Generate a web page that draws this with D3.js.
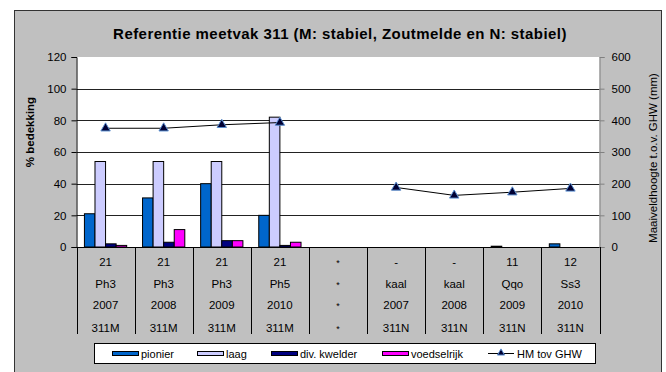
<!DOCTYPE html>
<html>
<head>
<meta charset="utf-8">
<script src="https://cdn.jsdelivr.net/npm/d3@7"></script>
<style>
  html, body { margin: 0; padding: 0; background: #fff; }
  svg { display: block; font-family: "Liberation Sans", Arial, sans-serif; }
</style>
</head>
<body>
<svg id="chart" width="666" height="372"></svg>
<script>
// Category labels, four rows each (code, vegetation type, year, section)
const rowCode    = ["21", "21", "21", "21", "*", "-", "-", "11", "12"];
const rowType    = ["Ph3", "Ph3", "Ph3", "Ph5", "*", "kaal", "kaal", "Qqo", "Ss3"];
const rowYear    = ["2007", "2008", "2009", "2010", "*", "2007", "2008", "2009", "2010"];
const rowSection = ["311M", "311M", "311M", "311M", "*", "311N", "311N", "311N", "311N"];

// Cover percentages per zone
const pionier     = [21, 31, 40, 20, null, null, null, 0.5, 2];
const laag        = [54, 54, 54, 82, null, null, null, null, null];
const divKwelder  = [2, 3, 4, 1, null, null, null, null, null];
const voedselrijk = [1, 11, 4, 3, null, null, null, null, null];

// Surface height relative to mean high water (mm)
const hmTovGHW = [375, 375, 386, 393, null, 188, 163, 173, 185];

const seriesNames  = ["pionier", "laag", "div. kwelder", "voedselrijk"];
const seriesColors = ["#0066CC", "#CCCCFF", "#000080", "#FF00FF"];
const seriesValues = [pionier, laag, divKwelder, voedselrijk];

const leftTicks  = [0, 20, 40, 60, 80, 100, 120];
const rightTicks = [0, 100, 200, 300, 400, 500, 600];

const svg = d3.select("#chart");
const plot = { left: 76.5, right: 599.5, top: 57, bottom: 247 };

// Chart area background with border
svg.append("rect").attr("x", 14.5).attr("y", 10.5).attr("width", 647).attr("height", 380)
  .attr("fill", "#C0C0C0").attr("stroke", "#333").attr("stroke-width", 1);

// Title
svg.append("text").attr("x", 340).attr("y", 39).attr("text-anchor", "middle")
  .attr("font-size", 15).attr("font-weight", "bold").attr("letter-spacing", 0.45)
  .attr("fill", "#000")
  .text("Referentie meetvak 311 (M: stabiel, Zoutmelde en N: stabiel)");

// Plot area
svg.append("rect").attr("x", plot.left).attr("y", plot.top)
  .attr("width", plot.right - plot.left).attr("height", plot.bottom - plot.top)
  .attr("fill", "#fff");

const idx = d3.range(rowCode.length);
const x = d3.scaleBand().domain(idx).range([plot.left, plot.right]).padding(0);
const barW = x.bandwidth() / 5.5;
const xs = d3.scaleBand().domain(d3.range(4))
  .range([barW * 0.75, barW * 4.75]).padding(0);

const y = d3.scaleLinear().domain([0, 120]).range([plot.bottom, plot.top]);
const y2 = d3.scaleLinear().domain([0, 600]).range([plot.bottom, plot.top]);

// Gridlines
svg.append("g").selectAll("line").data(leftTicks.filter(t => t > 0 && t < 120)).join("line")
  .attr("x1", plot.left).attr("x2", plot.right)
  .attr("y1", d => Math.round(y(d)) + 0.5).attr("y2", d => Math.round(y(d)) + 0.5)
  .attr("stroke", "#222").attr("stroke-width", 1);

// Bars
seriesValues.forEach((vals, s) => {
  svg.append("g").selectAll("rect")
    .data(idx.filter(i => vals[i] != null))
    .join("rect")
    .attr("x", i => x(i) + xs(s))
    .attr("y", i => y(vals[i]))
    .attr("width", xs.bandwidth())
    .attr("height", i => y(0) - y(vals[i]))
    .attr("fill", seriesColors[s])
    .attr("stroke", "#000").attr("stroke-width", 1);
});

// Left axis
const leftAxis = d3.axisLeft(y).tickValues(leftTicks).tickSize(5).tickPadding(5);
const gL = svg.append("g").attr("transform", `translate(${plot.left},0)`).call(leftAxis);
gL.select(".domain").attr("stroke", "#000");
gL.selectAll(".tick line").attr("stroke", "#000");
gL.selectAll("text").attr("font-size", 11.5).attr("fill", "#000")
  .attr("font-family", "Liberation Sans, Arial, sans-serif");

// Right axis
const rightAxis = d3.axisRight(y2).tickValues(rightTicks).tickSize(5).tickPadding(7);
const gR = svg.append("g").attr("transform", `translate(${plot.right},0)`).call(rightAxis);
gR.select(".domain").attr("stroke", "#808080");
gR.selectAll(".tick line").attr("stroke", "#808080");
gR.selectAll("text").attr("font-size", 11.5).attr("fill", "#000")
  .attr("font-family", "Liberation Sans, Arial, sans-serif");

// Axis titles
svg.append("text").attr("transform", "translate(34,132) rotate(-90)")
  .attr("text-anchor", "middle").attr("font-size", 11.5).attr("font-weight", "bold")
  .text("% bedekking");
svg.append("text").attr("transform", "translate(657,158) rotate(-90)")
  .attr("text-anchor", "middle").attr("font-size", 11.5)
  .text("Maaiveldhoogte t.o.v. GHW (mm)");

// Category axis: baseline, separators and four label rows
svg.append("line").attr("x1", plot.left).attr("x2", plot.right)
  .attr("y1", plot.bottom + 0.5).attr("y2", plot.bottom + 0.5).attr("stroke", "#000");
const seps = idx.map(i => x(i)).concat([plot.right]);
svg.append("g").selectAll("line").data(seps).join("line")
  .attr("x1", d => Math.round(d) + 0.5).attr("x2", d => Math.round(d) + 0.5)
  .attr("y1", plot.bottom).attr("y2", 334)
  .attr("stroke", "#000");

const rows = [rowCode, rowType, rowYear, rowSection];
const rowY = [266, 288, 309, 332];
rows.forEach((row, r) => {
  svg.append("g").selectAll("text").data(idx).join("text")
    .attr("x", i => x(i) + x.bandwidth() / 2)
    .attr("y", rowY[r])
    .attr("text-anchor", "middle").attr("font-size", i => row[i] === "*" ? 9 : 11.5)
    .attr("fill", "#000")
    .text(i => row[i]);
});

// Line series on secondary axis
const lineGen = d3.line()
  .defined(i => hmTovGHW[i] != null)
  .x(i => x(i) + x.bandwidth() / 2)
  .y(i => y2(hmTovGHW[i]));
svg.append("path").datum(idx).attr("d", lineGen)
  .attr("fill", "none").attr("stroke", "#000").attr("stroke-width", 1);

const tri = d3.symbol().type(d3.symbolTriangle).size(38);
svg.append("g").selectAll("path").data(idx.filter(i => hmTovGHW[i] != null)).join("path")
  .attr("transform", i => `translate(${x(i) + x.bandwidth() / 2},${y2(hmTovGHW[i])})`)
  .attr("d", tri)
  .attr("fill", "#000033").attr("stroke", "#5B8FD0").attr("stroke-width", 1);

// Legend
const legend = svg.append("g");
legend.append("rect").attr("x", 94.5).attr("y", 343.5).attr("width", 501).attr("height", 20)
  .attr("fill", "#fff").attr("stroke", "#000");
const legendX = [112, 197, 271, 382];
seriesNames.forEach((name, s) => {
  legend.append("rect").attr("x", legendX[s] + 0.5).attr("y", 351.5).attr("width", 26).attr("height", 4)
    .attr("fill", seriesColors[s]).attr("stroke", "#000");
  legend.append("text").attr("x", legendX[s] + 29).attr("y", 357.5)
    .attr("font-size", 11).attr("fill", "#000").text(name);
});
legend.append("line").attr("x1", 488).attr("x2", 514).attr("y1", 353.5).attr("y2", 353.5)
  .attr("stroke", "#000");
legend.append("path").attr("transform", "translate(501,353)")
  .attr("d", d3.symbol().type(d3.symbolTriangle).size(22))
  .attr("fill", "#000033").attr("stroke", "#5B8FD0");
legend.append("text").attr("x", 517).attr("y", 357.5)
  .attr("font-size", 11).attr("fill", "#000").text("HM tov GHW");
</script>
</body>
</html>
